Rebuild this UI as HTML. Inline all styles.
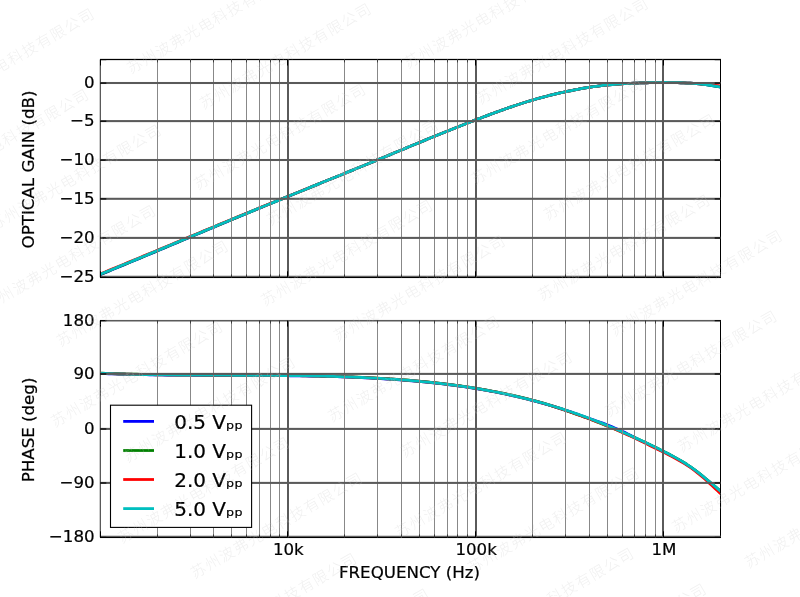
<!DOCTYPE html>
<html lang="zh"><head><meta charset="utf-8"><title>Frequency response</title>
<style>html,body{margin:0;padding:0;background:#fff;width:800px;height:597px;overflow:hidden}</style></head>
<body>
<svg width="800" height="597" viewBox="0 0 800 597" style="display:block;position:absolute;left:0;top:0">
<rect width="800" height="597" fill="#fff"/>
<clipPath id="c1"><rect x="100.0" y="59.5" width="620.5" height="217.8"/></clipPath>
<clipPath id="c2"><rect x="100.0" y="320.6" width="620.5" height="216.69999999999993"/></clipPath>
<g clip-path="url(#c1)" fill="none" stroke-width="2.78" stroke-linejoin="round">
<polyline stroke="#0000ff" points="99.50,274.93 102.63,273.65 105.75,272.37 108.88,271.09 112.00,269.80 115.13,268.52 118.25,267.23 121.38,265.93 124.51,264.64 127.63,263.34 130.76,262.05 133.88,260.75 137.01,259.45 140.13,258.14 143.26,256.84 146.38,255.53 149.51,254.23 152.64,252.92 155.76,251.60 158.89,250.29 162.01,248.97 165.14,247.65 168.26,246.34 171.39,245.02 174.52,243.70 177.64,242.39 180.77,241.07 183.89,239.75 187.02,238.43 190.14,237.12 193.27,235.80 196.39,234.48 199.52,233.17 202.65,231.85 205.77,230.54 208.90,229.22 212.02,227.91 215.15,226.60 218.27,225.29 221.40,223.98 224.53,222.67 227.65,221.37 230.78,220.06 233.90,218.76 237.03,217.46 240.15,216.16 243.28,214.86 246.40,213.57 249.53,212.28 252.66,210.98 255.78,209.69 258.91,208.41 262.03,207.12 265.16,205.83 268.28,204.55 271.41,203.27 274.54,201.99 277.66,200.71 280.79,199.43 283.91,198.15 287.04,196.87 290.16,195.59 293.29,194.31 296.41,193.04 299.54,191.76 302.67,190.48 305.79,189.21 308.92,187.93 312.04,186.66 315.17,185.38 318.29,184.11 321.42,182.83 324.55,181.56 327.67,180.29 330.80,179.02 333.92,177.75 337.05,176.47 340.17,175.20 343.30,173.93 346.42,172.65 349.55,171.37 352.68,170.09 355.80,168.82 358.93,167.53 362.05,166.25 365.18,164.97 368.30,163.68 371.43,162.40 374.56,161.11 377.68,159.81 380.81,158.52 383.93,157.23 387.06,155.93 390.18,154.63 393.31,153.33 396.43,152.04 399.56,150.74 402.69,149.44 405.81,148.14 408.94,146.84 412.06,145.55 415.19,144.25 418.31,142.96 421.44,141.67 424.57,140.38 427.69,139.09 430.82,137.81 433.94,136.53 437.07,135.25 440.19,133.98 443.32,132.71 446.44,131.45 449.57,130.19 452.70,128.94 455.82,127.69 458.95,126.45 462.07,125.21 465.20,123.98 468.32,122.76 471.45,121.54 474.58,120.34 477.70,119.14 480.83,117.94 483.95,116.76 487.08,115.58 490.20,114.42 493.33,113.26 496.45,112.12 499.58,110.98 502.71,109.86 505.83,108.76 508.96,107.67 512.08,106.60 515.21,105.54 518.33,104.51 521.46,103.49 524.59,102.50 527.71,101.53 530.84,100.59 533.96,99.67 537.09,98.77 540.21,97.91 543.34,97.06 546.46,96.24 549.59,95.45 552.72,94.68 555.84,93.93 558.97,93.20 562.09,92.50 565.22,91.82 568.34,91.16 571.47,90.52 574.60,89.90 577.72,89.30 580.85,88.73 583.97,88.18 587.10,87.66 590.22,87.17 593.35,86.70 596.47,86.26 599.60,85.85 602.73,85.47 605.85,85.12 608.98,84.80 612.10,84.51 615.23,84.26 618.35,84.02 621.48,83.82 624.61,83.63 627.73,83.47 630.86,83.32 633.98,83.19 637.11,83.08 640.23,82.97 643.36,82.88 646.48,82.80 649.61,82.72 652.74,82.65 655.86,82.60 658.99,82.55 662.11,82.52 665.24,82.51 668.36,82.52 671.49,82.54 674.62,82.59 677.74,82.66 680.87,82.75 683.99,82.87 687.12,83.02 690.24,83.20 693.37,83.41 696.49,83.66 699.62,83.94 702.75,84.27 705.87,84.64 709.00,85.06 712.12,85.52 715.25,86.05 718.37,86.62 721.50,87.26"/>
<polyline stroke="#008000" points="99.50,274.70 102.63,273.42 105.75,272.14 108.88,270.86 112.00,269.57 115.13,268.29 118.25,267.00 121.38,265.70 124.51,264.41 127.63,263.11 130.76,261.82 133.88,260.52 137.01,259.22 140.13,257.91 143.26,256.61 146.38,255.30 149.51,254.00 152.64,252.69 155.76,251.38 158.89,250.07 162.01,248.76 165.14,247.45 168.26,246.13 171.39,244.82 174.52,243.51 177.64,242.19 180.77,240.88 183.89,239.57 187.02,238.25 190.14,236.94 193.27,235.63 196.39,234.32 199.52,233.00 202.65,231.69 205.77,230.38 208.90,229.07 212.02,227.77 215.15,226.46 218.27,225.15 221.40,223.85 224.53,222.54 227.65,221.24 230.78,219.94 233.90,218.64 237.03,217.35 240.15,216.05 243.28,214.76 246.40,213.47 249.53,212.18 252.66,210.89 255.78,209.61 258.91,208.32 262.03,207.04 265.16,205.76 268.28,204.48 271.41,203.20 274.54,201.92 277.66,200.65 280.79,199.37 283.91,198.10 287.04,196.82 290.16,195.55 293.29,194.28 296.41,193.00 299.54,191.73 302.67,190.46 305.79,189.19 308.92,187.92 312.04,186.65 315.17,185.37 318.29,184.10 321.42,182.83 324.55,181.56 327.67,180.29 330.80,179.02 333.92,177.75 337.05,176.47 340.17,175.20 343.30,173.93 346.42,172.65 349.55,171.37 352.68,170.09 355.80,168.82 358.93,167.53 362.05,166.25 365.18,164.97 368.30,163.68 371.43,162.40 374.56,161.11 377.68,159.81 380.81,158.52 383.93,157.23 387.06,155.93 390.18,154.63 393.31,153.33 396.43,152.04 399.56,150.74 402.69,149.44 405.81,148.14 408.94,146.84 412.06,145.55 415.19,144.25 418.31,142.96 421.44,141.67 424.57,140.38 427.69,139.09 430.82,137.81 433.94,136.53 437.07,135.25 440.19,133.98 443.32,132.71 446.44,131.45 449.57,130.19 452.70,128.94 455.82,127.69 458.95,126.45 462.07,125.21 465.20,123.98 468.32,122.76 471.45,121.54 474.58,120.34 477.70,119.14 480.83,117.94 483.95,116.76 487.08,115.58 490.20,114.42 493.33,113.26 496.45,112.12 499.58,110.98 502.71,109.86 505.83,108.76 508.96,107.67 512.08,106.60 515.21,105.54 518.33,104.51 521.46,103.49 524.59,102.50 527.71,101.53 530.84,100.59 533.96,99.67 537.09,98.77 540.21,97.91 543.34,97.06 546.46,96.24 549.59,95.45 552.72,94.68 555.84,93.93 558.97,93.20 562.09,92.50 565.22,91.82 568.34,91.16 571.47,90.52 574.60,89.90 577.72,89.30 580.85,88.73 583.97,88.18 587.10,87.66 590.22,87.17 593.35,86.70 596.47,86.26 599.60,85.85 602.73,85.47 605.85,85.12 608.98,84.80 612.10,84.51 615.23,84.26 618.35,84.02 621.48,83.82 624.61,83.63 627.73,83.47 630.86,83.32 633.98,83.19 637.11,83.08 640.23,82.97 643.36,82.88 646.48,82.80 649.61,82.72 652.74,82.65 655.86,82.60 658.99,82.55 662.11,82.52 665.24,82.51 668.36,82.52 671.49,82.54 674.62,82.59 677.74,82.66 680.87,82.75 683.99,82.87 687.12,83.02 690.24,83.20 693.37,83.41 696.49,83.66 699.62,83.94 702.75,84.27 705.87,84.64 709.00,85.06 712.12,85.52 715.25,86.05 718.37,86.62 721.50,87.26"/>
<polyline stroke="#ff0000" points="99.50,274.23 102.63,272.95 105.75,271.67 108.88,270.39 112.00,269.10 115.13,267.82 118.25,266.53 121.38,265.23 124.51,263.94 127.63,262.64 130.76,261.35 133.88,260.05 137.01,258.75 140.13,257.44 143.26,256.14 146.38,254.83 149.51,253.53 152.64,252.23 155.76,250.93 158.89,249.62 162.01,248.32 165.14,247.02 168.26,245.71 171.39,244.41 174.52,243.10 177.64,241.80 180.77,240.49 183.89,239.19 187.02,237.89 190.14,236.58 193.27,235.28 196.39,233.97 199.52,232.67 202.65,231.37 205.77,230.07 208.90,228.77 212.02,227.47 215.15,226.17 218.27,224.87 221.40,223.57 224.53,222.28 227.65,220.99 230.78,219.70 233.90,218.41 237.03,217.12 240.15,215.83 243.28,214.55 246.40,213.27 249.53,211.99 252.66,210.71 255.78,209.43 258.91,208.15 262.03,206.88 265.16,205.61 268.28,204.34 271.41,203.07 274.54,201.80 277.66,200.53 280.79,199.26 283.91,198.00 287.04,196.73 290.16,195.47 293.29,194.20 296.41,192.94 299.54,191.68 302.67,190.41 305.79,189.15 308.92,187.89 312.04,186.62 315.17,185.36 318.29,184.10 321.42,182.83 324.55,181.56 327.67,180.29 330.80,179.02 333.92,177.75 337.05,176.47 340.17,175.20 343.30,173.93 346.42,172.65 349.55,171.37 352.68,170.09 355.80,168.82 358.93,167.53 362.05,166.25 365.18,164.97 368.30,163.68 371.43,162.40 374.56,161.11 377.68,159.81 380.81,158.52 383.93,157.23 387.06,155.93 390.18,154.63 393.31,153.33 396.43,152.04 399.56,150.74 402.69,149.44 405.81,148.14 408.94,146.84 412.06,145.55 415.19,144.25 418.31,142.96 421.44,141.67 424.57,140.38 427.69,139.09 430.82,137.81 433.94,136.53 437.07,135.25 440.19,133.98 443.32,132.71 446.44,131.45 449.57,130.19 452.70,128.94 455.82,127.69 458.95,126.45 462.07,125.21 465.20,123.98 468.32,122.76 471.45,121.54 474.58,120.34 477.70,119.14 480.83,117.94 483.95,116.76 487.08,115.58 490.20,114.42 493.33,113.26 496.45,112.12 499.58,110.98 502.71,109.86 505.83,108.76 508.96,107.67 512.08,106.60 515.21,105.54 518.33,104.51 521.46,103.49 524.59,102.50 527.71,101.53 530.84,100.59 533.96,99.67 537.09,98.77 540.21,97.91 543.34,97.06 546.46,96.24 549.59,95.45 552.72,94.68 555.84,93.93 558.97,93.20 562.09,92.50 565.22,91.82 568.34,91.16 571.47,90.52 574.60,89.90 577.72,89.30 580.85,88.73 583.97,88.18 587.10,87.66 590.22,87.17 593.35,86.70 596.47,86.26 599.60,85.85 602.73,85.47 605.85,85.12 608.98,84.80 612.10,84.51 615.23,84.26 618.35,84.02 621.48,83.82 624.61,83.63 627.73,83.47 630.86,83.32 633.98,83.19 637.11,83.08 640.23,82.97 643.36,82.88 646.48,82.80 649.61,82.72 652.74,82.65 655.86,82.60 658.99,82.55 662.11,82.52 665.24,82.51 668.36,82.52 671.49,82.54 674.62,82.59 677.74,82.66 680.87,82.75 683.99,82.87 687.12,83.02 690.24,83.20 693.37,83.41 696.49,83.66 699.62,83.94 702.75,84.13 705.87,84.35 709.00,84.61 712.12,84.92 715.25,85.28 718.37,85.71 721.50,86.26"/>
<polyline stroke="#00bfbf" points="99.50,274.58 102.63,273.30 105.75,272.02 108.88,270.74 112.00,269.45 115.13,268.17 118.25,266.88 121.38,265.58 124.51,264.29 127.63,262.99 130.76,261.70 133.88,260.40 137.01,259.10 140.13,257.79 143.26,256.49 146.38,255.18 149.51,253.88 152.64,252.57 155.76,251.26 158.89,249.96 162.01,248.65 165.14,247.34 168.26,246.03 171.39,244.71 174.52,243.40 177.64,242.09 180.77,240.78 183.89,239.47 187.02,238.16 190.14,236.85 193.27,235.54 196.39,234.23 199.52,232.92 202.65,231.61 205.77,230.30 208.90,229.00 212.02,227.69 215.15,226.38 218.27,225.08 221.40,223.78 224.53,222.48 227.65,221.18 230.78,219.88 233.90,218.58 237.03,217.29 240.15,216.00 243.28,214.71 246.40,213.42 249.53,212.13 252.66,210.85 255.78,209.56 258.91,208.28 262.03,207.00 265.16,205.72 268.28,204.44 271.41,203.17 274.54,201.89 277.66,200.62 280.79,199.34 283.91,198.07 287.04,196.80 290.16,195.53 293.29,194.26 296.41,192.99 299.54,191.72 302.67,190.45 305.79,189.18 308.92,187.91 312.04,186.64 315.17,185.37 318.29,184.10 321.42,182.83 324.55,181.56 327.67,180.29 330.80,179.02 333.92,177.75 337.05,176.47 340.17,175.20 343.30,173.93 346.42,172.65 349.55,171.37 352.68,170.09 355.80,168.82 358.93,167.53 362.05,166.25 365.18,164.97 368.30,163.68 371.43,162.40 374.56,161.11 377.68,159.81 380.81,158.52 383.93,157.23 387.06,155.93 390.18,154.63 393.31,153.33 396.43,152.04 399.56,150.74 402.69,149.44 405.81,148.14 408.94,146.84 412.06,145.55 415.19,144.25 418.31,142.96 421.44,141.67 424.57,140.38 427.69,139.09 430.82,137.81 433.94,136.53 437.07,135.25 440.19,133.98 443.32,132.71 446.44,131.45 449.57,130.19 452.70,128.94 455.82,127.69 458.95,126.45 462.07,125.21 465.20,123.98 468.32,122.76 471.45,121.54 474.58,120.34 477.70,119.14 480.83,117.94 483.95,116.76 487.08,115.58 490.20,114.42 493.33,113.26 496.45,112.12 499.58,110.98 502.71,109.86 505.83,108.76 508.96,107.67 512.08,106.60 515.21,105.54 518.33,104.51 521.46,103.49 524.59,102.50 527.71,101.53 530.84,100.59 533.96,99.67 537.09,98.77 540.21,97.91 543.34,97.06 546.46,96.24 549.59,95.45 552.72,94.68 555.84,93.93 558.97,93.20 562.09,92.50 565.22,91.82 568.34,91.16 571.47,90.52 574.60,89.90 577.72,89.30 580.85,88.73 583.97,88.18 587.10,87.66 590.22,87.17 593.35,86.70 596.47,86.26 599.60,85.85 602.73,85.47 605.85,85.12 608.98,84.80 612.10,84.51 615.23,84.26 618.35,84.02 621.48,83.82 624.61,83.63 627.73,83.47 630.86,83.32 633.98,83.19 637.11,83.08 640.23,82.97 643.36,82.88 646.48,82.80 649.61,82.72 652.74,82.65 655.86,82.60 658.99,82.55 662.11,82.52 665.24,82.51 668.36,82.52 671.49,82.54 674.62,82.59 677.74,82.66 680.87,82.75 683.99,82.87 687.12,83.02 690.24,83.20 693.37,83.41 696.49,83.66 699.62,83.94 702.75,84.27 705.87,84.64 709.00,85.06 712.12,85.52 715.25,86.05 718.37,86.62 721.50,87.26"/>
</g>
<g clip-path="url(#c2)" fill="none" stroke-width="2.78" stroke-linejoin="round">
<polyline stroke="#0000ff" points="99.50,373.40 102.63,373.53 105.75,373.65 108.88,373.76 112.00,373.87 115.13,373.97 118.25,374.06 121.38,374.16 124.51,374.24 127.63,374.33 130.76,374.41 133.88,374.48 137.01,374.55 140.13,374.61 143.26,374.68 146.38,374.73 149.51,374.79 152.64,374.84 155.76,374.89 158.89,374.93 162.01,374.97 165.14,375.01 168.26,375.04 171.39,375.08 174.52,375.11 177.64,375.14 180.77,375.16 183.89,375.18 187.02,375.21 190.14,375.23 193.27,375.24 196.39,375.26 199.52,375.27 202.65,375.29 205.77,375.30 208.90,375.31 212.02,375.32 215.15,375.33 218.27,375.34 221.40,375.35 224.53,375.36 227.65,375.37 230.78,375.38 233.90,375.39 237.03,375.40 240.15,375.41 243.28,375.42 246.40,375.43 249.53,375.44 252.66,375.46 255.78,375.47 258.91,375.49 262.03,375.50 265.16,375.52 268.28,375.54 271.41,375.56 274.54,375.59 277.66,375.61 280.79,375.64 283.91,375.67 287.04,375.71 290.16,375.74 293.29,375.78 296.41,375.83 299.54,375.87 302.67,375.92 305.79,375.97 308.92,376.03 312.04,376.09 315.17,376.15 318.29,376.22 321.42,376.29 324.55,376.37 327.67,376.45 330.80,376.53 333.92,376.62 337.05,376.71 340.17,376.81 343.30,376.92 346.42,377.03 349.55,377.14 352.68,377.26 355.80,377.39 358.93,377.52 362.05,377.66 365.18,377.80 368.30,377.96 371.43,378.11 374.56,378.28 377.68,378.45 380.81,378.62 383.93,378.81 387.06,379.00 390.18,379.20 393.31,379.40 396.43,379.62 399.56,379.84 402.69,380.07 405.81,380.31 408.94,380.56 412.06,380.82 415.19,381.09 418.31,381.37 421.44,381.66 424.57,381.96 427.69,382.27 430.82,382.59 433.94,382.92 437.07,383.26 440.19,383.62 443.32,383.98 446.44,384.36 449.57,384.75 452.70,385.15 455.82,385.57 458.95,386.00 462.07,386.44 465.20,386.89 468.32,387.36 471.45,387.85 474.58,388.35 477.70,388.86 480.83,389.38 483.95,389.93 487.08,390.48 490.20,391.06 493.33,391.65 496.45,392.25 499.58,392.87 502.71,393.51 505.83,394.16 508.96,394.84 512.08,395.53 515.21,396.23 518.33,396.96 521.46,397.70 524.59,398.46 527.71,399.24 530.84,400.04 533.96,400.85 537.09,401.69 540.21,402.54 543.34,403.42 546.46,404.31 549.59,405.23 552.72,406.16 555.84,407.11 558.97,408.08 562.09,409.08 565.22,410.09 568.34,411.12 571.47,412.17 574.60,413.24 577.72,414.33 580.85,415.44 583.97,416.57 587.10,417.72 590.22,418.88 593.35,419.92 596.47,420.97 599.60,422.04 602.73,423.14 605.85,424.30 608.98,425.59 612.10,426.90 615.23,428.24 618.35,429.59 621.48,430.95 624.61,432.34 627.73,433.90 630.86,435.51 633.98,437.13 637.11,438.76 640.23,440.39 643.36,441.86 646.48,443.34 649.61,444.83 652.74,446.34 655.86,447.85 658.99,449.39 662.11,450.94 665.24,452.50 668.36,454.09 671.49,455.72 674.62,457.40 677.74,459.14 680.87,460.95 683.99,462.84 687.12,464.83 690.24,466.92 693.37,469.14 696.49,471.47 699.62,473.91 702.75,476.44 705.87,479.03 709.00,481.66 712.12,484.31 715.25,486.97 718.37,489.62 721.50,492.22"/>
<polyline stroke="#008000" points="99.50,373.10 102.63,373.23 105.75,373.35 108.88,373.46 112.00,373.57 115.13,373.67 118.25,373.76 121.38,373.86 124.51,373.94 127.63,374.03 130.76,374.11 133.88,374.18 137.01,374.25 140.13,374.31 143.26,374.38 146.38,374.43 149.51,374.49 152.64,374.54 155.76,374.59 158.89,374.63 162.01,374.67 165.14,374.71 168.26,374.74 171.39,374.78 174.52,374.81 177.64,374.84 180.77,374.86 183.89,374.88 187.02,374.91 190.14,374.93 193.27,374.94 196.39,374.96 199.52,374.97 202.65,374.99 205.77,375.00 208.90,375.01 212.02,375.02 215.15,375.03 218.27,375.04 221.40,375.05 224.53,375.06 227.65,375.07 230.78,375.08 233.90,375.09 237.03,375.10 240.15,375.11 243.28,375.12 246.40,375.13 249.53,375.14 252.66,375.16 255.78,375.17 258.91,375.19 262.03,375.20 265.16,375.22 268.28,375.24 271.41,375.26 274.54,375.29 277.66,375.31 280.79,375.34 283.91,375.37 287.04,375.41 290.16,375.44 293.29,375.48 296.41,375.53 299.54,375.57 302.67,375.62 305.79,375.67 308.92,375.73 312.04,375.79 315.17,375.85 318.29,375.92 321.42,375.99 324.55,376.07 327.67,376.15 330.80,376.23 333.92,376.32 337.05,376.41 340.17,376.51 343.30,376.62 346.42,376.73 349.55,376.84 352.68,376.96 355.80,377.09 358.93,377.22 362.05,377.36 365.18,377.50 368.30,377.66 371.43,377.81 374.56,377.98 377.68,378.15 380.81,378.32 383.93,378.51 387.06,378.70 390.18,378.90 393.31,379.10 396.43,379.32 399.56,379.54 402.69,379.77 405.81,380.01 408.94,380.26 412.06,380.52 415.19,380.79 418.31,381.07 421.44,381.36 424.57,381.66 427.69,381.97 430.82,382.29 433.94,382.62 437.07,382.96 440.19,383.32 443.32,383.68 446.44,384.06 449.57,384.45 452.70,384.85 455.82,385.27 458.95,385.70 462.07,386.14 465.20,386.59 468.32,387.06 471.45,387.55 474.58,388.05 477.70,388.56 480.83,389.08 483.95,389.63 487.08,390.18 490.20,390.76 493.33,391.35 496.45,391.95 499.58,392.57 502.71,393.21 505.83,393.86 508.96,394.54 512.08,395.23 515.21,395.93 518.33,396.66 521.46,397.40 524.59,398.16 527.71,398.94 530.84,399.74 533.96,400.55 537.09,401.39 540.21,402.25 543.34,403.18 546.46,404.13 549.59,405.10 552.72,406.10 555.84,407.11 558.97,408.14 562.09,409.19 565.22,410.26 568.34,411.34 571.47,412.45 574.60,413.58 577.72,414.68 580.85,415.79 583.97,416.92 587.10,418.07 590.22,419.24 593.35,420.43 596.47,421.64 599.60,422.87 602.73,424.13 605.85,425.40 608.98,426.69 612.10,427.97 615.23,429.25 618.35,430.55 621.48,431.86 624.61,433.20 627.73,434.54 630.86,435.91 633.98,437.29 637.11,438.68 640.23,440.09 643.36,441.56 646.48,443.04 649.61,444.53 652.74,446.04 655.86,447.55 658.99,449.09 662.11,450.64 665.24,452.20 668.36,453.79 671.49,455.42 674.62,457.10 677.74,458.84 680.87,460.65 683.99,462.54 687.12,464.53 690.24,466.62 693.37,468.84 696.49,471.17 699.62,473.61 702.75,476.14 705.87,478.73 709.00,481.36 712.12,484.01 715.25,486.67 718.37,489.32 721.50,491.92"/>
<polyline stroke="#ff0000" points="99.50,373.25 102.63,373.38 105.75,373.50 108.88,373.61 112.00,373.72 115.13,373.82 118.25,373.91 121.38,374.01 124.51,374.09 127.63,374.18 130.76,374.26 133.88,374.33 137.01,374.40 140.13,374.46 143.26,374.53 146.38,374.58 149.51,374.64 152.64,374.69 155.76,374.74 158.89,374.78 162.01,374.82 165.14,374.86 168.26,374.89 171.39,374.93 174.52,374.96 177.64,374.99 180.77,375.01 183.89,375.03 187.02,375.06 190.14,375.08 193.27,375.09 196.39,375.11 199.52,375.12 202.65,375.14 205.77,375.15 208.90,375.16 212.02,375.17 215.15,375.18 218.27,375.19 221.40,375.20 224.53,375.21 227.65,375.22 230.78,375.23 233.90,375.24 237.03,375.25 240.15,375.26 243.28,375.27 246.40,375.28 249.53,375.29 252.66,375.31 255.78,375.32 258.91,375.34 262.03,375.35 265.16,375.37 268.28,375.39 271.41,375.41 274.54,375.44 277.66,375.46 280.79,375.49 283.91,375.52 287.04,375.56 290.16,375.59 293.29,375.63 296.41,375.68 299.54,375.72 302.67,375.77 305.79,375.82 308.92,375.88 312.04,375.94 315.17,376.00 318.29,376.07 321.42,376.14 324.55,376.22 327.67,376.30 330.80,376.38 333.92,376.47 337.05,376.56 340.17,376.66 343.30,376.77 346.42,376.88 349.55,376.99 352.68,377.11 355.80,377.24 358.93,377.37 362.05,377.51 365.18,377.65 368.30,377.81 371.43,377.96 374.56,378.13 377.68,378.30 380.81,378.47 383.93,378.66 387.06,378.85 390.18,379.05 393.31,379.25 396.43,379.47 399.56,379.69 402.69,379.92 405.81,380.16 408.94,380.41 412.06,380.67 415.19,380.94 418.31,381.22 421.44,381.51 424.57,381.81 427.69,382.12 430.82,382.44 433.94,382.77 437.07,383.11 440.19,383.47 443.32,383.83 446.44,384.21 449.57,384.60 452.70,385.00 455.82,385.42 458.95,385.85 462.07,386.29 465.20,386.74 468.32,387.21 471.45,387.70 474.58,388.20 477.70,388.71 480.83,389.23 483.95,389.78 487.08,390.33 490.20,390.91 493.33,391.50 496.45,392.10 499.58,392.72 502.71,393.36 505.83,394.01 508.96,394.69 512.08,395.38 515.21,396.08 518.33,396.81 521.46,397.55 524.59,398.31 527.71,399.09 530.84,399.89 533.96,400.70 537.09,401.54 540.21,402.40 543.34,403.31 546.46,404.24 549.59,405.18 552.72,406.15 555.84,407.14 558.97,408.15 562.09,409.17 565.22,410.22 568.34,411.29 571.47,412.37 574.60,413.48 577.72,414.60 580.85,415.74 583.97,416.87 587.10,418.02 590.22,419.19 593.35,420.38 596.47,421.59 599.60,422.82 602.73,424.08 605.85,425.35 608.98,426.64 612.10,427.95 615.23,429.29 618.35,430.64 621.48,432.02 624.61,433.45 627.73,434.89 630.86,436.35 633.98,437.82 637.11,439.31 640.23,440.81 643.36,442.32 646.48,443.84 649.61,445.38 652.74,446.89 655.86,448.40 658.99,449.94 662.11,451.49 665.24,453.05 668.36,454.64 671.49,456.27 674.62,457.95 677.74,459.69 680.87,461.50 683.99,463.39 687.12,465.38 690.24,467.47 693.37,469.71 696.49,472.10 699.62,474.63 702.75,477.28 705.87,480.02 709.00,482.85 712.12,485.73 715.25,488.66 718.37,491.60 721.50,494.37"/>
<polyline stroke="#00bfbf" points="99.50,373.25 102.63,373.38 105.75,373.50 108.88,373.61 112.00,373.72 115.13,373.82 118.25,373.91 121.38,374.01 124.51,374.09 127.63,374.18 130.76,374.26 133.88,374.33 137.01,374.40 140.13,374.46 143.26,374.53 146.38,374.58 149.51,374.64 152.64,374.69 155.76,374.74 158.89,374.78 162.01,374.82 165.14,374.86 168.26,374.89 171.39,374.93 174.52,374.96 177.64,374.99 180.77,375.01 183.89,375.03 187.02,375.06 190.14,375.08 193.27,375.09 196.39,375.11 199.52,375.12 202.65,375.14 205.77,375.15 208.90,375.16 212.02,375.17 215.15,375.18 218.27,375.19 221.40,375.20 224.53,375.21 227.65,375.22 230.78,375.23 233.90,375.24 237.03,375.25 240.15,375.26 243.28,375.27 246.40,375.28 249.53,375.29 252.66,375.31 255.78,375.32 258.91,375.34 262.03,375.35 265.16,375.37 268.28,375.39 271.41,375.41 274.54,375.44 277.66,375.46 280.79,375.49 283.91,375.52 287.04,375.56 290.16,375.59 293.29,375.63 296.41,375.68 299.54,375.72 302.67,375.77 305.79,375.82 308.92,375.88 312.04,375.94 315.17,376.00 318.29,376.07 321.42,376.14 324.55,376.22 327.67,376.30 330.80,376.38 333.92,376.47 337.05,376.56 340.17,376.66 343.30,376.77 346.42,376.88 349.55,376.99 352.68,377.11 355.80,377.24 358.93,377.37 362.05,377.51 365.18,377.65 368.30,377.81 371.43,377.96 374.56,378.13 377.68,378.30 380.81,378.47 383.93,378.66 387.06,378.85 390.18,379.05 393.31,379.25 396.43,379.47 399.56,379.69 402.69,379.92 405.81,380.16 408.94,380.41 412.06,380.67 415.19,380.94 418.31,381.22 421.44,381.51 424.57,381.81 427.69,382.12 430.82,382.44 433.94,382.77 437.07,383.11 440.19,383.47 443.32,383.83 446.44,384.21 449.57,384.60 452.70,385.00 455.82,385.42 458.95,385.85 462.07,386.29 465.20,386.74 468.32,387.21 471.45,387.70 474.58,388.20 477.70,388.71 480.83,389.23 483.95,389.78 487.08,390.33 490.20,390.91 493.33,391.50 496.45,392.10 499.58,392.72 502.71,393.36 505.83,394.01 508.96,394.69 512.08,395.38 515.21,396.08 518.33,396.81 521.46,397.55 524.59,398.31 527.71,399.09 530.84,399.89 533.96,400.70 537.09,401.54 540.21,402.39 543.34,403.27 546.46,404.16 549.59,405.08 552.72,406.01 555.84,406.96 558.97,407.93 562.09,408.93 565.22,409.94 568.34,410.97 571.47,412.02 574.60,413.09 577.72,414.18 580.85,415.29 583.97,416.42 587.10,417.57 590.22,418.74 593.35,419.93 596.47,421.14 599.60,422.37 602.73,423.63 605.85,424.90 608.98,426.19 612.10,427.50 615.23,428.84 618.35,430.19 621.48,431.55 624.61,432.94 627.73,434.34 630.86,435.76 633.98,437.19 637.11,438.63 640.23,440.09 643.36,441.56 646.48,443.04 649.61,444.53 652.74,446.04 655.86,447.55 658.99,449.09 662.11,450.64 665.24,452.20 668.36,453.79 671.49,455.42 674.62,457.10 677.74,458.84 680.87,460.65 683.99,462.54 687.12,464.53 690.24,466.62 693.37,468.84 696.49,471.17 699.62,473.61 702.75,476.14 705.87,478.73 709.00,481.36 712.12,484.01 715.25,486.67 718.37,489.32 721.50,491.92"/>
</g>
<rect x="100.00" y="58.875" width="621.00" height="1.25" fill="#000"/>
<rect x="100.00" y="276.450" width="621.00" height="1.6" fill="#000"/>
<rect x="99.50" y="59.500" width="0.5" height="217.800" fill="#000" fill-opacity="0.4"/>
<rect x="100.00" y="59.500" width="1" height="217.800" fill="#000"/>
<rect x="720.00" y="59.500" width="1" height="217.800" fill="#000"/>
<rect x="157.00" y="59.500" width="1" height="217.800" fill="#888888"/>
<rect x="190.00" y="59.500" width="1" height="217.800" fill="#888888"/>
<rect x="213.00" y="59.500" width="1" height="217.800" fill="#888888"/>
<rect x="231.00" y="59.500" width="1" height="217.800" fill="#888888"/>
<rect x="246.00" y="59.500" width="1" height="217.800" fill="#888888"/>
<rect x="259.00" y="59.500" width="1" height="217.800" fill="#888888"/>
<rect x="270.00" y="59.500" width="1" height="217.800" fill="#888888"/>
<rect x="279.00" y="59.500" width="1" height="217.800" fill="#888888"/>
<rect x="344.00" y="59.500" width="1" height="217.800" fill="#888888"/>
<rect x="377.00" y="59.500" width="1" height="217.800" fill="#888888"/>
<rect x="401.00" y="59.500" width="1" height="217.800" fill="#888888"/>
<rect x="419.00" y="59.500" width="1" height="217.800" fill="#888888"/>
<rect x="434.00" y="59.500" width="1" height="217.800" fill="#888888"/>
<rect x="447.00" y="59.500" width="1" height="217.800" fill="#888888"/>
<rect x="457.00" y="59.500" width="1" height="217.800" fill="#888888"/>
<rect x="467.00" y="59.500" width="1" height="217.800" fill="#888888"/>
<rect x="532.00" y="59.500" width="1" height="217.800" fill="#888888"/>
<rect x="565.00" y="59.500" width="1" height="217.800" fill="#888888"/>
<rect x="589.00" y="59.500" width="1" height="217.800" fill="#888888"/>
<rect x="607.00" y="59.500" width="1" height="217.800" fill="#888888"/>
<rect x="622.00" y="59.500" width="1" height="217.800" fill="#888888"/>
<rect x="634.00" y="59.500" width="1" height="217.800" fill="#888888"/>
<rect x="645.00" y="59.500" width="1" height="217.800" fill="#888888"/>
<rect x="655.00" y="59.500" width="1" height="217.800" fill="#888888"/>
<rect x="100.00" y="59.500" width="1" height="217.800" fill="#5a5a5a"/>
<rect x="287.00" y="59.500" width="2" height="217.800" fill="#5a5a5a"/>
<rect x="475.00" y="59.500" width="2" height="217.800" fill="#5a5a5a"/>
<rect x="662.00" y="59.500" width="2" height="217.800" fill="#5a5a5a"/>
<rect x="100.00" y="81.975" width="621.00" height="2.05" fill="#5a5a5a"/>
<rect x="100.00" y="120.075" width="621.00" height="2.05" fill="#5a5a5a"/>
<rect x="100.00" y="158.975" width="621.00" height="2.05" fill="#5a5a5a"/>
<rect x="100.00" y="197.775" width="621.00" height="2.05" fill="#5a5a5a"/>
<rect x="100.00" y="236.875" width="621.00" height="2.05" fill="#5a5a5a"/>
<rect x="100.00" y="275.750" width="621.00" height="1.0" fill="#5a5a5a"/>
<rect x="157.00" y="59.500" width="1" height="2.900" fill="#000" fill-opacity="0.55"/>
<rect x="157.00" y="274.400" width="1" height="2.900" fill="#000" fill-opacity="0.55"/>
<rect x="190.00" y="59.500" width="1" height="2.900" fill="#000" fill-opacity="0.55"/>
<rect x="190.00" y="274.400" width="1" height="2.900" fill="#000" fill-opacity="0.55"/>
<rect x="213.00" y="59.500" width="1" height="2.900" fill="#000" fill-opacity="0.55"/>
<rect x="213.00" y="274.400" width="1" height="2.900" fill="#000" fill-opacity="0.55"/>
<rect x="231.00" y="59.500" width="1" height="2.900" fill="#000" fill-opacity="0.55"/>
<rect x="231.00" y="274.400" width="1" height="2.900" fill="#000" fill-opacity="0.55"/>
<rect x="246.00" y="59.500" width="1" height="2.900" fill="#000" fill-opacity="0.55"/>
<rect x="246.00" y="274.400" width="1" height="2.900" fill="#000" fill-opacity="0.55"/>
<rect x="259.00" y="59.500" width="1" height="2.900" fill="#000" fill-opacity="0.55"/>
<rect x="259.00" y="274.400" width="1" height="2.900" fill="#000" fill-opacity="0.55"/>
<rect x="270.00" y="59.500" width="1" height="2.900" fill="#000" fill-opacity="0.55"/>
<rect x="270.00" y="274.400" width="1" height="2.900" fill="#000" fill-opacity="0.55"/>
<rect x="279.00" y="59.500" width="1" height="2.900" fill="#000" fill-opacity="0.55"/>
<rect x="279.00" y="274.400" width="1" height="2.900" fill="#000" fill-opacity="0.55"/>
<rect x="344.00" y="59.500" width="1" height="2.900" fill="#000" fill-opacity="0.55"/>
<rect x="344.00" y="274.400" width="1" height="2.900" fill="#000" fill-opacity="0.55"/>
<rect x="377.00" y="59.500" width="1" height="2.900" fill="#000" fill-opacity="0.55"/>
<rect x="377.00" y="274.400" width="1" height="2.900" fill="#000" fill-opacity="0.55"/>
<rect x="401.00" y="59.500" width="1" height="2.900" fill="#000" fill-opacity="0.55"/>
<rect x="401.00" y="274.400" width="1" height="2.900" fill="#000" fill-opacity="0.55"/>
<rect x="419.00" y="59.500" width="1" height="2.900" fill="#000" fill-opacity="0.55"/>
<rect x="419.00" y="274.400" width="1" height="2.900" fill="#000" fill-opacity="0.55"/>
<rect x="434.00" y="59.500" width="1" height="2.900" fill="#000" fill-opacity="0.55"/>
<rect x="434.00" y="274.400" width="1" height="2.900" fill="#000" fill-opacity="0.55"/>
<rect x="447.00" y="59.500" width="1" height="2.900" fill="#000" fill-opacity="0.55"/>
<rect x="447.00" y="274.400" width="1" height="2.900" fill="#000" fill-opacity="0.55"/>
<rect x="457.00" y="59.500" width="1" height="2.900" fill="#000" fill-opacity="0.55"/>
<rect x="457.00" y="274.400" width="1" height="2.900" fill="#000" fill-opacity="0.55"/>
<rect x="467.00" y="59.500" width="1" height="2.900" fill="#000" fill-opacity="0.55"/>
<rect x="467.00" y="274.400" width="1" height="2.900" fill="#000" fill-opacity="0.55"/>
<rect x="532.00" y="59.500" width="1" height="2.900" fill="#000" fill-opacity="0.55"/>
<rect x="532.00" y="274.400" width="1" height="2.900" fill="#000" fill-opacity="0.55"/>
<rect x="565.00" y="59.500" width="1" height="2.900" fill="#000" fill-opacity="0.55"/>
<rect x="565.00" y="274.400" width="1" height="2.900" fill="#000" fill-opacity="0.55"/>
<rect x="589.00" y="59.500" width="1" height="2.900" fill="#000" fill-opacity="0.55"/>
<rect x="589.00" y="274.400" width="1" height="2.900" fill="#000" fill-opacity="0.55"/>
<rect x="607.00" y="59.500" width="1" height="2.900" fill="#000" fill-opacity="0.55"/>
<rect x="607.00" y="274.400" width="1" height="2.900" fill="#000" fill-opacity="0.55"/>
<rect x="622.00" y="59.500" width="1" height="2.900" fill="#000" fill-opacity="0.55"/>
<rect x="622.00" y="274.400" width="1" height="2.900" fill="#000" fill-opacity="0.55"/>
<rect x="634.00" y="59.500" width="1" height="2.900" fill="#000" fill-opacity="0.55"/>
<rect x="634.00" y="274.400" width="1" height="2.900" fill="#000" fill-opacity="0.55"/>
<rect x="645.00" y="59.500" width="1" height="2.900" fill="#000" fill-opacity="0.55"/>
<rect x="645.00" y="274.400" width="1" height="2.900" fill="#000" fill-opacity="0.55"/>
<rect x="655.00" y="59.500" width="1" height="2.900" fill="#000" fill-opacity="0.55"/>
<rect x="655.00" y="274.400" width="1" height="2.900" fill="#000" fill-opacity="0.55"/>
<rect x="100.00" y="59.500" width="1" height="6.000" fill="#000"/>
<rect x="100.00" y="271.300" width="1" height="6.000" fill="#000"/>
<rect x="287.00" y="59.500" width="1" height="6.000" fill="#000"/>
<rect x="287.00" y="271.300" width="1" height="6.000" fill="#000"/>
<rect x="475.00" y="59.500" width="1" height="6.000" fill="#000"/>
<rect x="475.00" y="271.300" width="1" height="6.000" fill="#000"/>
<rect x="663.00" y="59.500" width="1" height="6.000" fill="#000"/>
<rect x="663.00" y="271.300" width="1" height="6.000" fill="#000"/>
<rect x="100.00" y="82.525" width="6.30" height="1.15" fill="#000"/>
<rect x="714.70" y="82.525" width="6.30" height="1.15" fill="#000"/>
<rect x="100.00" y="120.625" width="6.30" height="1.15" fill="#000"/>
<rect x="714.70" y="120.625" width="6.30" height="1.15" fill="#000"/>
<rect x="100.00" y="159.525" width="6.30" height="1.15" fill="#000"/>
<rect x="714.70" y="159.525" width="6.30" height="1.15" fill="#000"/>
<rect x="100.00" y="198.325" width="6.30" height="1.15" fill="#000"/>
<rect x="714.70" y="198.325" width="6.30" height="1.15" fill="#000"/>
<rect x="100.00" y="237.425" width="6.30" height="1.15" fill="#000"/>
<rect x="714.70" y="237.425" width="6.30" height="1.15" fill="#000"/>
<rect x="100.00" y="59.025" width="6.30" height="1.15" fill="#000"/>
<rect x="714.70" y="59.025" width="6.30" height="1.15" fill="#000"/>
<rect x="100.00" y="276.825" width="6.30" height="1.15" fill="#000"/>
<rect x="714.70" y="276.825" width="6.30" height="1.15" fill="#000"/>
<rect x="100.00" y="319.975" width="621.00" height="1.25" fill="#000"/>
<rect x="100.00" y="536.450" width="621.00" height="1.6" fill="#000"/>
<rect x="99.50" y="320.600" width="0.5" height="216.700" fill="#000" fill-opacity="0.4"/>
<rect x="100.00" y="320.600" width="1" height="216.700" fill="#000"/>
<rect x="720.00" y="320.600" width="1" height="216.700" fill="#000"/>
<rect x="157.00" y="320.600" width="1" height="216.700" fill="#888888"/>
<rect x="190.00" y="320.600" width="1" height="216.700" fill="#888888"/>
<rect x="213.00" y="320.600" width="1" height="216.700" fill="#888888"/>
<rect x="231.00" y="320.600" width="1" height="216.700" fill="#888888"/>
<rect x="246.00" y="320.600" width="1" height="216.700" fill="#888888"/>
<rect x="259.00" y="320.600" width="1" height="216.700" fill="#888888"/>
<rect x="270.00" y="320.600" width="1" height="216.700" fill="#888888"/>
<rect x="279.00" y="320.600" width="1" height="216.700" fill="#888888"/>
<rect x="344.00" y="320.600" width="1" height="216.700" fill="#888888"/>
<rect x="377.00" y="320.600" width="1" height="216.700" fill="#888888"/>
<rect x="401.00" y="320.600" width="1" height="216.700" fill="#888888"/>
<rect x="419.00" y="320.600" width="1" height="216.700" fill="#888888"/>
<rect x="434.00" y="320.600" width="1" height="216.700" fill="#888888"/>
<rect x="447.00" y="320.600" width="1" height="216.700" fill="#888888"/>
<rect x="457.00" y="320.600" width="1" height="216.700" fill="#888888"/>
<rect x="467.00" y="320.600" width="1" height="216.700" fill="#888888"/>
<rect x="532.00" y="320.600" width="1" height="216.700" fill="#888888"/>
<rect x="565.00" y="320.600" width="1" height="216.700" fill="#888888"/>
<rect x="589.00" y="320.600" width="1" height="216.700" fill="#888888"/>
<rect x="607.00" y="320.600" width="1" height="216.700" fill="#888888"/>
<rect x="622.00" y="320.600" width="1" height="216.700" fill="#888888"/>
<rect x="634.00" y="320.600" width="1" height="216.700" fill="#888888"/>
<rect x="645.00" y="320.600" width="1" height="216.700" fill="#888888"/>
<rect x="655.00" y="320.600" width="1" height="216.700" fill="#888888"/>
<rect x="100.00" y="320.600" width="1" height="216.700" fill="#5a5a5a"/>
<rect x="287.00" y="320.600" width="2" height="216.700" fill="#5a5a5a"/>
<rect x="475.00" y="320.600" width="2" height="216.700" fill="#5a5a5a"/>
<rect x="662.00" y="320.600" width="2" height="216.700" fill="#5a5a5a"/>
<rect x="100.00" y="372.875" width="621.00" height="2.05" fill="#5a5a5a"/>
<rect x="100.00" y="427.875" width="621.00" height="2.05" fill="#5a5a5a"/>
<rect x="100.00" y="481.875" width="621.00" height="2.05" fill="#5a5a5a"/>
<rect x="100.00" y="319.975" width="621.00" height="1.25" fill="#5a5a5a"/>
<rect x="100.00" y="535.750" width="621.00" height="1.0" fill="#5a5a5a"/>
<rect x="157.00" y="320.600" width="1" height="2.900" fill="#000" fill-opacity="0.55"/>
<rect x="157.00" y="534.400" width="1" height="2.900" fill="#000" fill-opacity="0.55"/>
<rect x="190.00" y="320.600" width="1" height="2.900" fill="#000" fill-opacity="0.55"/>
<rect x="190.00" y="534.400" width="1" height="2.900" fill="#000" fill-opacity="0.55"/>
<rect x="213.00" y="320.600" width="1" height="2.900" fill="#000" fill-opacity="0.55"/>
<rect x="213.00" y="534.400" width="1" height="2.900" fill="#000" fill-opacity="0.55"/>
<rect x="231.00" y="320.600" width="1" height="2.900" fill="#000" fill-opacity="0.55"/>
<rect x="231.00" y="534.400" width="1" height="2.900" fill="#000" fill-opacity="0.55"/>
<rect x="246.00" y="320.600" width="1" height="2.900" fill="#000" fill-opacity="0.55"/>
<rect x="246.00" y="534.400" width="1" height="2.900" fill="#000" fill-opacity="0.55"/>
<rect x="259.00" y="320.600" width="1" height="2.900" fill="#000" fill-opacity="0.55"/>
<rect x="259.00" y="534.400" width="1" height="2.900" fill="#000" fill-opacity="0.55"/>
<rect x="270.00" y="320.600" width="1" height="2.900" fill="#000" fill-opacity="0.55"/>
<rect x="270.00" y="534.400" width="1" height="2.900" fill="#000" fill-opacity="0.55"/>
<rect x="279.00" y="320.600" width="1" height="2.900" fill="#000" fill-opacity="0.55"/>
<rect x="279.00" y="534.400" width="1" height="2.900" fill="#000" fill-opacity="0.55"/>
<rect x="344.00" y="320.600" width="1" height="2.900" fill="#000" fill-opacity="0.55"/>
<rect x="344.00" y="534.400" width="1" height="2.900" fill="#000" fill-opacity="0.55"/>
<rect x="377.00" y="320.600" width="1" height="2.900" fill="#000" fill-opacity="0.55"/>
<rect x="377.00" y="534.400" width="1" height="2.900" fill="#000" fill-opacity="0.55"/>
<rect x="401.00" y="320.600" width="1" height="2.900" fill="#000" fill-opacity="0.55"/>
<rect x="401.00" y="534.400" width="1" height="2.900" fill="#000" fill-opacity="0.55"/>
<rect x="419.00" y="320.600" width="1" height="2.900" fill="#000" fill-opacity="0.55"/>
<rect x="419.00" y="534.400" width="1" height="2.900" fill="#000" fill-opacity="0.55"/>
<rect x="434.00" y="320.600" width="1" height="2.900" fill="#000" fill-opacity="0.55"/>
<rect x="434.00" y="534.400" width="1" height="2.900" fill="#000" fill-opacity="0.55"/>
<rect x="447.00" y="320.600" width="1" height="2.900" fill="#000" fill-opacity="0.55"/>
<rect x="447.00" y="534.400" width="1" height="2.900" fill="#000" fill-opacity="0.55"/>
<rect x="457.00" y="320.600" width="1" height="2.900" fill="#000" fill-opacity="0.55"/>
<rect x="457.00" y="534.400" width="1" height="2.900" fill="#000" fill-opacity="0.55"/>
<rect x="467.00" y="320.600" width="1" height="2.900" fill="#000" fill-opacity="0.55"/>
<rect x="467.00" y="534.400" width="1" height="2.900" fill="#000" fill-opacity="0.55"/>
<rect x="532.00" y="320.600" width="1" height="2.900" fill="#000" fill-opacity="0.55"/>
<rect x="532.00" y="534.400" width="1" height="2.900" fill="#000" fill-opacity="0.55"/>
<rect x="565.00" y="320.600" width="1" height="2.900" fill="#000" fill-opacity="0.55"/>
<rect x="565.00" y="534.400" width="1" height="2.900" fill="#000" fill-opacity="0.55"/>
<rect x="589.00" y="320.600" width="1" height="2.900" fill="#000" fill-opacity="0.55"/>
<rect x="589.00" y="534.400" width="1" height="2.900" fill="#000" fill-opacity="0.55"/>
<rect x="607.00" y="320.600" width="1" height="2.900" fill="#000" fill-opacity="0.55"/>
<rect x="607.00" y="534.400" width="1" height="2.900" fill="#000" fill-opacity="0.55"/>
<rect x="622.00" y="320.600" width="1" height="2.900" fill="#000" fill-opacity="0.55"/>
<rect x="622.00" y="534.400" width="1" height="2.900" fill="#000" fill-opacity="0.55"/>
<rect x="634.00" y="320.600" width="1" height="2.900" fill="#000" fill-opacity="0.55"/>
<rect x="634.00" y="534.400" width="1" height="2.900" fill="#000" fill-opacity="0.55"/>
<rect x="645.00" y="320.600" width="1" height="2.900" fill="#000" fill-opacity="0.55"/>
<rect x="645.00" y="534.400" width="1" height="2.900" fill="#000" fill-opacity="0.55"/>
<rect x="655.00" y="320.600" width="1" height="2.900" fill="#000" fill-opacity="0.55"/>
<rect x="655.00" y="534.400" width="1" height="2.900" fill="#000" fill-opacity="0.55"/>
<rect x="100.00" y="320.600" width="1" height="6.000" fill="#000"/>
<rect x="100.00" y="531.300" width="1" height="6.000" fill="#000"/>
<rect x="287.00" y="320.600" width="1" height="6.000" fill="#000"/>
<rect x="287.00" y="531.300" width="1" height="6.000" fill="#000"/>
<rect x="475.00" y="320.600" width="1" height="6.000" fill="#000"/>
<rect x="475.00" y="531.300" width="1" height="6.000" fill="#000"/>
<rect x="663.00" y="320.600" width="1" height="6.000" fill="#000"/>
<rect x="663.00" y="531.300" width="1" height="6.000" fill="#000"/>
<rect x="100.00" y="373.425" width="6.30" height="1.15" fill="#000"/>
<rect x="714.70" y="373.425" width="6.30" height="1.15" fill="#000"/>
<rect x="100.00" y="428.425" width="6.30" height="1.15" fill="#000"/>
<rect x="714.70" y="428.425" width="6.30" height="1.15" fill="#000"/>
<rect x="100.00" y="482.425" width="6.30" height="1.15" fill="#000"/>
<rect x="714.70" y="482.425" width="6.30" height="1.15" fill="#000"/>
<rect x="100.00" y="320.125" width="6.30" height="1.15" fill="#000"/>
<rect x="714.70" y="320.125" width="6.30" height="1.15" fill="#000"/>
<rect x="100.00" y="536.825" width="6.30" height="1.15" fill="#000"/>
<rect x="714.70" y="536.825" width="6.30" height="1.15" fill="#000"/>
<g font-family='"DejaVu Sans","Liberation Sans",sans-serif' font-size="16.67" fill="#000" stroke="#000" stroke-width="0.22">
<text x="94.6" y="88.00" text-anchor="end">0</text>
<text x="94.6" y="126.10" text-anchor="end">−5</text>
<text x="94.6" y="165.00" text-anchor="end">−10</text>
<text x="94.6" y="203.80" text-anchor="end">−15</text>
<text x="94.6" y="242.90" text-anchor="end">−20</text>
<text x="94.6" y="282.30" text-anchor="end">−25</text>
<text x="94.6" y="378.90" text-anchor="end">90</text>
<text x="94.6" y="433.90" text-anchor="end">0</text>
<text x="94.6" y="487.90" text-anchor="end">−90</text>
<text x="94.6" y="325.60" text-anchor="end">180</text>
<text x="94.6" y="542.30" text-anchor="end">−180</text>
<text x="288.32" y="555.2" text-anchor="middle">10k</text>
<text x="476.14" y="555.2" text-anchor="middle">100k</text>
<text x="663.96" y="555.2" text-anchor="middle">1M</text>
<text x="409.5" y="578" text-anchor="middle">FREQUENCY (Hz)</text>
<text transform="translate(34.3,169.50) rotate(-90)" text-anchor="middle">OPTICAL GAIN (dB)</text>
<text transform="translate(34.3,429.95) rotate(-90)" text-anchor="middle">PHASE (deg)</text>
</g>
<rect x="110.5" y="405.2" width="141.1" height="122.19999999999999" fill="#fff" stroke="#000" stroke-width="1.1"/>
<g font-family='"DejaVu Sans","Liberation Sans",sans-serif' font-size="20" fill="#000" stroke="#000" stroke-width="0.22">
<line x1="123.2" x2="154" y1="421.4" y2="421.4" stroke="#0000ff" stroke-width="2.78"/>
<text x="174.2" y="429.10">0.5 Vₚₚ</text>
<line x1="123.2" x2="154" y1="450.5" y2="450.5" stroke="#008000" stroke-width="2.78"/>
<text x="174.2" y="458.20">1.0 Vₚₚ</text>
<line x1="123.2" x2="154" y1="479.5" y2="479.5" stroke="#ff0000" stroke-width="2.78"/>
<text x="174.2" y="487.20">2.0 Vₚₚ</text>
<line x1="123.2" x2="154" y1="508.6" y2="508.6" stroke="#00bfbf" stroke-width="2.78"/>
<text x="174.2" y="516.30">5.0 Vₚₚ</text>
</g>
<g font-family='"Liberation Sans","Noto Sans CJK SC",sans-serif' font-size="15" font-weight="300" fill="#c8c8c8" fill-opacity="0.28" transform="rotate(-30)">
<text x="-121.0" y="-71.3" textLength="194.9" lengthAdjust="spacing">苏州波弗光电科技有限公司</text>
<text x="-166.0" y="-4.3" textLength="194.9" lengthAdjust="spacing">苏州波弗光电科技有限公司</text>
<text x="-121.0" y="62.7" textLength="194.9" lengthAdjust="spacing">苏州波弗光电科技有限公司</text>
<text x="121.5" y="62.7" textLength="194.9" lengthAdjust="spacing">苏州波弗光电科技有限公司</text>
<text x="-166.0" y="129.7" textLength="194.9" lengthAdjust="spacing">苏州波弗光电科技有限公司</text>
<text x="76.5" y="129.7" textLength="194.9" lengthAdjust="spacing">苏州波弗光电科技有限公司</text>
<text x="-121.0" y="196.7" textLength="194.9" lengthAdjust="spacing">苏州波弗光电科技有限公司</text>
<text x="121.5" y="196.7" textLength="194.9" lengthAdjust="spacing">苏州波弗光电科技有限公司</text>
<text x="364.0" y="196.7" textLength="194.9" lengthAdjust="spacing">苏州波弗光电科技有限公司</text>
<text x="-166.0" y="263.7" textLength="194.9" lengthAdjust="spacing">苏州波弗光电科技有限公司</text>
<text x="76.5" y="263.7" textLength="194.9" lengthAdjust="spacing">苏州波弗光电科技有限公司</text>
<text x="319.0" y="263.7" textLength="194.9" lengthAdjust="spacing">苏州波弗光电科技有限公司</text>
<text x="-121.0" y="330.7" textLength="194.9" lengthAdjust="spacing">苏州波弗光电科技有限公司</text>
<text x="121.5" y="330.7" textLength="194.9" lengthAdjust="spacing">苏州波弗光电科技有限公司</text>
<text x="364.0" y="330.7" textLength="194.9" lengthAdjust="spacing">苏州波弗光电科技有限公司</text>
<text x="-166.0" y="397.7" textLength="194.9" lengthAdjust="spacing">苏州波弗光电科技有限公司</text>
<text x="76.5" y="397.7" textLength="194.9" lengthAdjust="spacing">苏州波弗光电科技有限公司</text>
<text x="319.0" y="397.7" textLength="194.9" lengthAdjust="spacing">苏州波弗光电科技有限公司</text>
<text x="-121.0" y="464.7" textLength="194.9" lengthAdjust="spacing">苏州波弗光电科技有限公司</text>
<text x="121.5" y="464.7" textLength="194.9" lengthAdjust="spacing">苏州波弗光电科技有限公司</text>
<text x="364.0" y="464.7" textLength="194.9" lengthAdjust="spacing">苏州波弗光电科技有限公司</text>
<text x="-166.0" y="531.7" textLength="194.9" lengthAdjust="spacing">苏州波弗光电科技有限公司</text>
<text x="76.5" y="531.7" textLength="194.9" lengthAdjust="spacing">苏州波弗光电科技有限公司</text>
<text x="319.0" y="531.7" textLength="194.9" lengthAdjust="spacing">苏州波弗光电科技有限公司</text>
<text x="-121.0" y="598.7" textLength="194.9" lengthAdjust="spacing">苏州波弗光电科技有限公司</text>
<text x="121.5" y="598.7" textLength="194.9" lengthAdjust="spacing">苏州波弗光电科技有限公司</text>
<text x="364.0" y="598.7" textLength="194.9" lengthAdjust="spacing">苏州波弗光电科技有限公司</text>
<text x="-166.0" y="665.7" textLength="194.9" lengthAdjust="spacing">苏州波弗光电科技有限公司</text>
<text x="76.5" y="665.7" textLength="194.9" lengthAdjust="spacing">苏州波弗光电科技有限公司</text>
<text x="319.0" y="665.7" textLength="194.9" lengthAdjust="spacing">苏州波弗光电科技有限公司</text>
<text x="-121.0" y="732.7" textLength="194.9" lengthAdjust="spacing">苏州波弗光电科技有限公司</text>
<text x="121.5" y="732.7" textLength="194.9" lengthAdjust="spacing">苏州波弗光电科技有限公司</text>
<text x="364.0" y="732.7" textLength="194.9" lengthAdjust="spacing">苏州波弗光电科技有限公司</text>
<text x="76.5" y="799.7" textLength="194.9" lengthAdjust="spacing">苏州波弗光电科技有限公司</text>
<text x="319.0" y="799.7" textLength="194.9" lengthAdjust="spacing">苏州波弗光电科技有限公司</text>
<text x="121.5" y="866.7" textLength="194.9" lengthAdjust="spacing">苏州波弗光电科技有限公司</text>
<text x="364.0" y="866.7" textLength="194.9" lengthAdjust="spacing">苏州波弗光电科技有限公司</text>
<text x="319.0" y="933.7" textLength="194.9" lengthAdjust="spacing">苏州波弗光电科技有限公司</text>
</g>
</svg>
</body></html>
